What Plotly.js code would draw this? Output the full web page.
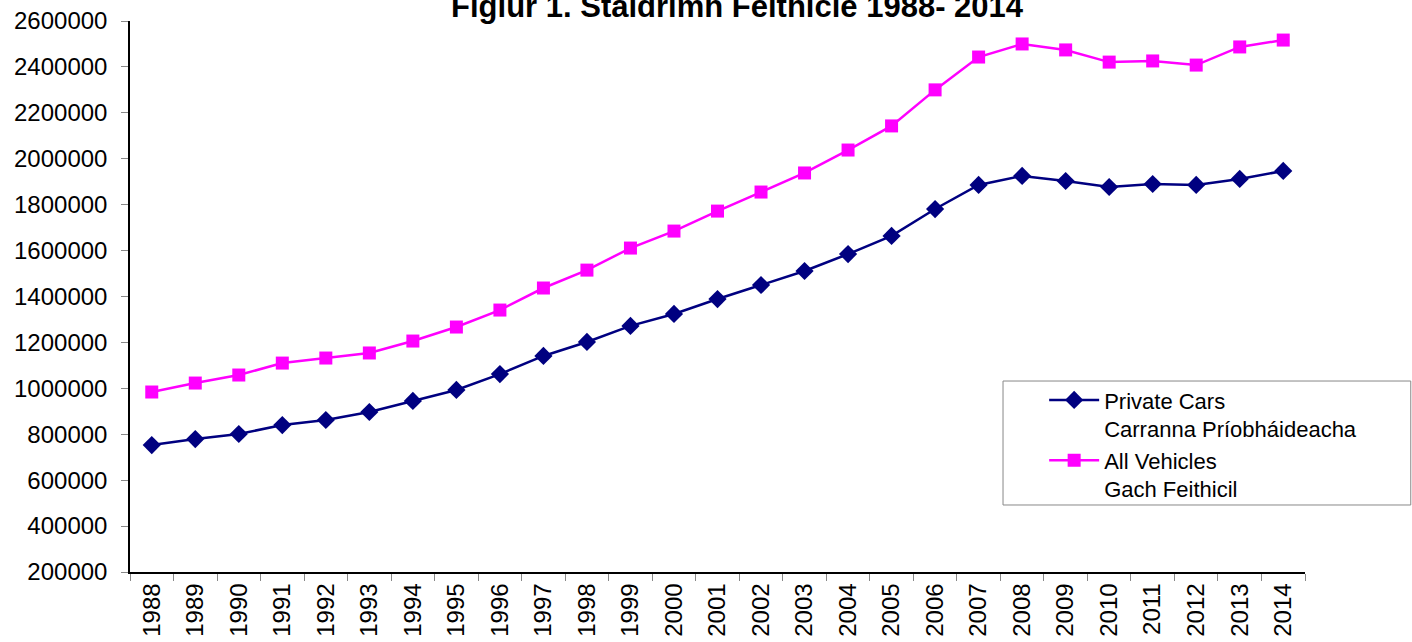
<!DOCTYPE html>
<html>
<head>
<meta charset="utf-8">
<script src="https://cdn.plot.ly/plotly-3.0.1.min.js"></script>
<style>
  body { margin: 0; background: #fff; }
  #plot { width: 1412px; height: 642px; }
</style>
</head>
<body>
<div id="plot"></div>
<script>
var years = ['1988', '1989', '1990', '1991', '1992', '1993', '1994', '1995', '1996', '1997',
  '1998', '1999', '2000', '2001', '2002', '2003', '2004', '2005', '2006', '2007',
  '2008', '2009', '2010', '2011', '2012', '2013', '2014'];

var privateCars = [753000, 779000, 801000, 840000, 862000, 897000, 945000, 993000, 1062000, 1141000,
  1202000, 1272000, 1324000, 1389000, 1450000, 1511000, 1585000, 1664000, 1781000, 1886000,
  1925000, 1903000, 1877000, 1890000, 1886000, 1912000, 1947000];

var allVehicles = [984000, 1023000, 1058000, 1110000, 1132000, 1154000, 1206000, 1267000, 1341000, 1437000,
  1515000, 1611000, 1685000, 1772000, 1855000, 1938000, 2038000, 2143000, 2300000, 2443000,
  2500000, 2474000, 2421000, 2426000, 2408000, 2487000, 2517000];

var trace1 = {
  x: years,
  y: privateCars,
  type: 'scatter',
  mode: 'lines+markers',
  name: 'Private Cars<br>Carranna Príobháideacha',
  line: { color: '#000080', width: 2.5 },
  marker: { symbol: 'diamond', size: 14, color: '#000080' }
};

var trace2 = {
  x: years,
  y: allVehicles,
  type: 'scatter',
  mode: 'lines+markers',
  name: 'All Vehicles<br>Gach Feithicil',
  line: { color: '#FF00FF', width: 2.5 },
  marker: { symbol: 'square', size: 13, color: '#FF00FF' }
};

var layout = {
  width: 1412,
  height: 642,
  margin: { l: 130, r: 107, t: 21, b: 70 },
  paper_bgcolor: '#fff',
  plot_bgcolor: '#fff',
  font: { family: 'Liberation Sans, Arial, sans-serif', size: 24, color: '#000' },
  title: {
    text: '<b>Figiúr 1. Staidrimh Feithicle 1988- 2014</b>',
    font: { size: 31, color: '#000' },
    x: 0.522,
    xanchor: 'center',
    y: 0.99,
    yref: 'container',
    yanchor: 'middle'
  },
  xaxis: {
    type: 'category',
    range: [-0.5, 26.5],
    tickangle: -90,
    ticks: 'outside',
    tickson: 'boundaries',
    ticklen: 7,
    tickcolor: '#888',
    showline: true,
    linecolor: '#000',
    linewidth: 1.5,
    showgrid: false,
    zeroline: false,
    fixedrange: true
  },
  yaxis: {
    range: [200000, 2600000],
    dtick: 200000,
    tickformat: 'd',
    ticks: 'outside',
    ticklen: 7,
    tickcolor: '#888',
    ticklabelstandoff: 9,
    showline: true,
    linecolor: '#000',
    linewidth: 1.5,
    showgrid: false,
    zeroline: false,
    fixedrange: true
  },
  showlegend: true,
  legend: {
    x: 0.778,
    y: 0.35,
    xanchor: 'left',
    yanchor: 'top',
    borderwidth: 0,
    bgcolor: 'rgba(0,0,0,0)',
    font: { size: 22 },
    itemwidth: 50,
    valign: 'top',
    tracegroupgap: 0
  },
  // legend frame, as in the original
  shapes: [{
    type: 'rect',
    xref: 'paper', yref: 'paper',
    x0: 0.743, x1: 1.09, y0: 0.1216, y1: 0.3466,
    line: { color: '#888', width: 1 },
    fillcolor: 'rgba(0,0,0,0)',
    layer: 'below'
  }]
};

Plotly.newPlot('plot', [trace1, trace2], layout, { displayModeBar: false });
</script>
</body>
</html>
